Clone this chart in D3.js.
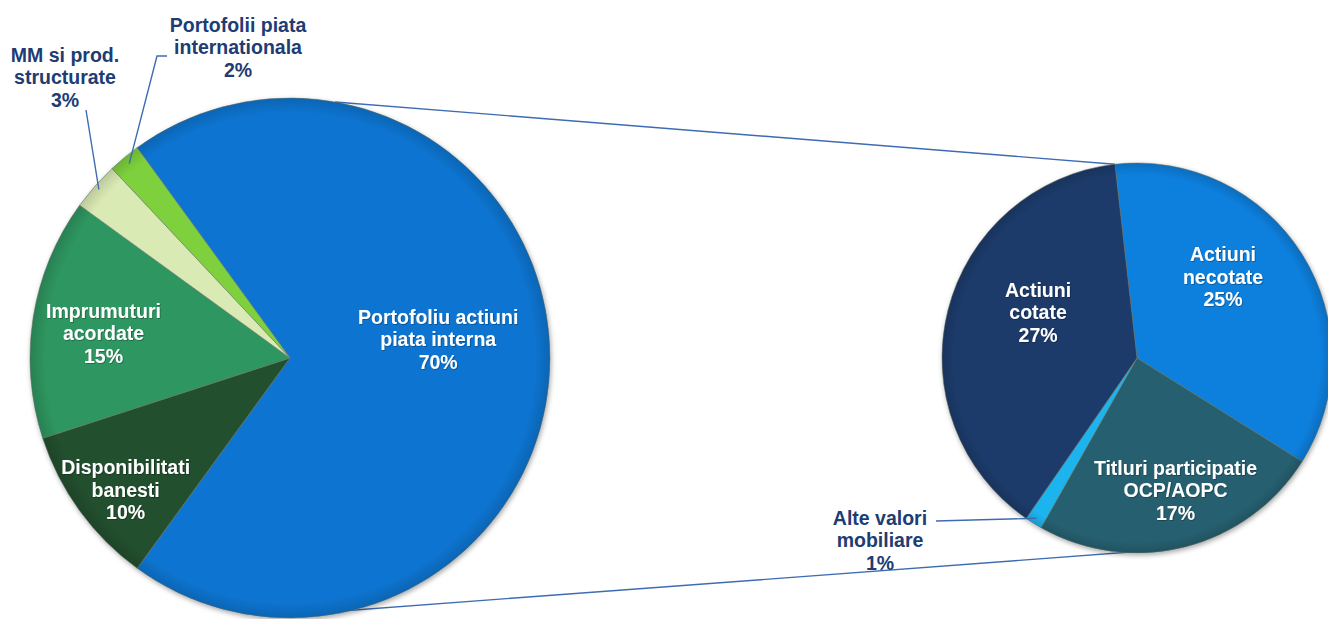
<!DOCTYPE html>
<html>
<head>
<meta charset="utf-8">
<script src="https://cdn.jsdelivr.net/npm/d3@7"></script>
<style>
  body { margin: 0; background: #fff; }
  svg { display: block; }
  text { font-family: "Liberation Sans", Arial, sans-serif; font-weight: bold; }
</style>
</head>
<body>
<div class="chart"></div>
<script>
// ---- data ----
const mainNames = [
    ["Portofoliu actiuni", "piata interna"],
    ["Disponibilitati", "banesti"],
    ["Imprumuturi", "acordate"],
    ["MM si prod.", "structurate"],
    ["Portofolii piata", "internationala"]
];
const mainValues = [70, 10, 15, 3, 2];
const mainColors = ["#0B75D1", "#23502E", "#2E9660", "#DAEAB4", "#7ED13E"];

const subNames = [
    ["Actiuni", "necotate"],
    ["Titluri participatie", "OCP/AOPC"],
    ["Alte valori", "mobiliare"],
    ["Actiuni", "cotate"]
];
const subValues = [25, 17, 1, 27];
const subColors = ["#0D7FDC", "#27606F", "#1FB4EE", "#1D3B6A"];

// ---- layout ----
const width = 1328, height = 619;
const main = {cx: 290, cy: 358, r: 260, start: -0.2 * Math.PI};
const sub = {cx: 1137, cy: 358, r: 195, start: -6.5 * Math.PI / 180};
const lineH = 22.5;
const navy = "#203C73";
const leader = "#3D6CB3";

// label placement: inner = inside slice (white), outer = with leader line (navy)
const mainLabelPos = [
    {inner: true, f: 0.57, dx: 0, dy: -19},
    {inner: true, f: 0.81, dx: 6, dy: 8},
    {inner: true, f: 0.73, dx: 1, dy: 5},
    {inner: false, tx: 65, ty: 77, path: [[86, 110]], f: 0.98},
    {inner: false, tx: 238, ty: 47, path: [[167, 56], [157, 56]], f: 0.97}
];
const subLabelPos = [
    {inner: true, f: 0.6, dx: -13, dy: -19},
    {inner: true, f: 0.7, dx: 5, dy: 0},
    {inner: false, tx: 880, ty: 540, path: [[936, 521]], f: 0.97},
    {inner: true, f: 0.56, dx: 7, dy: -19}
];

const svg = d3.select(".chart").append("svg")
    .attr("width", width)
    .attr("height", height);

const defs = svg.append("defs");
const shadow = defs.append("filter").attr("id", "shadow")
    .attr("x", "-10%").attr("y", "-10%").attr("width", "120%").attr("height", "120%");
shadow.append("feDropShadow")
    .attr("dx", 1).attr("dy", 2).attr("stdDeviation", 2.5)
    .attr("flood-color", "#000").attr("flood-opacity", 0.35);

const bevel = defs.append("radialGradient").attr("id", "bevel");
bevel.append("stop").attr("offset", "0%").attr("stop-color", "#000").attr("stop-opacity", 0);
bevel.append("stop").attr("offset", "94%").attr("stop-color", "#000").attr("stop-opacity", 0);
bevel.append("stop").attr("offset", "100%").attr("stop-color", "#000").attr("stop-opacity", 0.14);

const textShadow = defs.append("filter").attr("id", "tshadow");
textShadow.append("feDropShadow")
    .attr("dx", 0.8).attr("dy", 0.8).attr("stdDeviation", 0.6)
    .attr("flood-color", "#000").attr("flood-opacity", 0.35);

function pointAt(p, angle, k) {
    return [p.cx + Math.sin(angle) * p.r * k, p.cy - Math.cos(angle) * p.r * k];
}

// connector lines between the two pies
const connectors = [
    [pointAt(main, 10 * Math.PI / 180, 1), pointAt(sub, sub.start, 1)],
    [pointAt(main, 170 * Math.PI / 180, 0.99), pointAt(sub, 175 * Math.PI / 180, 0.99)]
];
svg.selectAll(".connector")
    .data(connectors)
    .join("line")
    .attr("class", "connector")
    .attr("x1", d => d[0][0]).attr("y1", d => d[0][1])
    .attr("x2", d => d[1][0]).attr("y2", d => d[1][1])
    .attr("stroke", leader)
    .attr("stroke-width", 1.4);

function drawLabel(g, x, y, lines, color, useShadow) {
    const t = g.append("text")
        .attr("x", x).attr("y", y)
        .attr("text-anchor", "middle")
        .attr("fill", color)
        .style("font-size", "19.5px");
    if (useShadow) t.attr("filter", "url(#tshadow)");
    lines.forEach((s, i) => {
        t.append("tspan")
            .attr("x", x)
            .attr("y", y + (i - (lines.length - 1) / 2) * lineH)
            .attr("dy", "0.36em")
            .text(s);
    });
}

function drawPie(p, names, values, colors, labelPos) {
    const pie = d3.pie().sort(null)
        .startAngle(p.start)
        .endAngle(p.start + 2 * Math.PI);
    const arcs = pie(values);
    const arc = d3.arc().innerRadius(0).outerRadius(p.r);

    const g = svg.append("g");
    const pieG = g.append("g")
        .attr("transform", `translate(${p.cx},${p.cy})`)
        .attr("filter", "url(#shadow)");

    pieG.selectAll("path")
        .data(arcs)
        .join("path")
        .attr("d", arc)
        .attr("fill", (d, i) => colors[i])
        .attr("stroke", "rgba(110,120,110,0.55)")
        .attr("stroke-width", 1);

    // subtle darker rim like the original bevel
    g.append("circle")
        .attr("cx", p.cx).attr("cy", p.cy).attr("r", p.r)
        .attr("fill", "url(#bevel)");

    arcs.forEach((d, i) => {
        const lp = labelPos[i];
        const lines = names[i].concat([values[i] + "%"]);
        const mid = (d.startAngle + d.endAngle) / 2;
        if (lp.inner) {
            const c = pointAt(p, mid, lp.f);
            drawLabel(svg, c[0] + lp.dx, c[1] + lp.dy, lines, "#fff", true);
        } else {
            const end = pointAt(p, mid, lp.f);
            const pts = lp.path.concat([end]);
            svg.append("path")
                .attr("d", d3.line()(pts))
                .attr("fill", "none")
                .attr("stroke", leader)
                .attr("stroke-width", 1.4);
            drawLabel(svg, lp.tx, lp.ty, lines, navy, false);
        }
    });
}

drawPie(main, mainNames, mainValues, mainColors, mainLabelPos);
drawPie(sub, subNames, subValues, subColors, subLabelPos);
</script>
</body>
</html>
